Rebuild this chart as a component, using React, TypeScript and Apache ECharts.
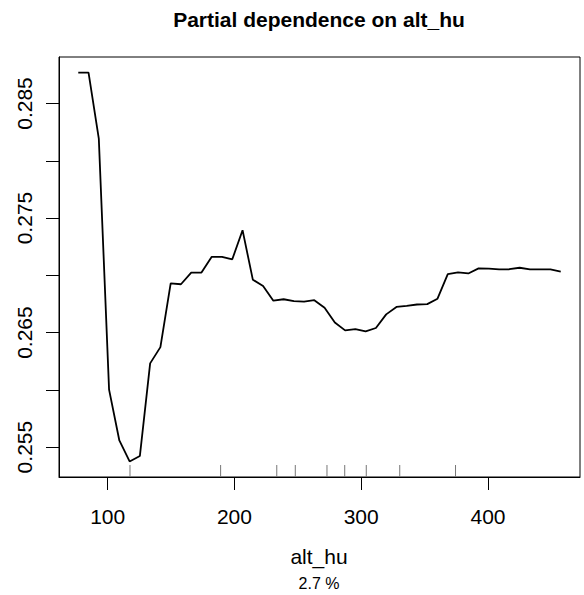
import React, { useEffect, useRef } from "react";
import * as echarts from "echarts";

const xGrid = [
  76.8, 84.9, 93.0, 101.1, 109.2, 117.3, 125.4, 133.5, 141.6, 149.7, 157.8, 165.9,
  174.0, 182.1, 190.2, 198.3, 206.4, 214.5, 222.6, 230.7, 238.8, 246.9, 254.9, 263.0,
  271.1, 279.2, 287.3, 295.4, 303.5, 311.6, 319.7, 327.8, 335.9, 344.0, 352.1, 360.2,
  368.3, 376.4, 384.5, 392.6, 400.7, 408.8, 416.9, 425.0, 433.1, 441.2, 449.3, 457.4,
];
const partialDep = [
  0.2877, 0.2877, 0.28194, 0.26002, 0.25558, 0.25375, 0.25423, 0.26231, 0.26373, 0.26929,
  0.26922, 0.27024, 0.27024, 0.27161, 0.27161, 0.2714, 0.27394, 0.26962, 0.26907, 0.26778,
  0.26791, 0.26774, 0.26771, 0.26783, 0.26717, 0.26588, 0.26519, 0.26531, 0.2651, 0.2654,
  0.26659, 0.26724, 0.26733, 0.26745, 0.26748, 0.26796, 0.2701, 0.27025, 0.27016, 0.2706,
  0.27059, 0.27051, 0.27053, 0.27066, 0.27051, 0.27051, 0.27051, 0.27033,
];
const rugValues = [117.6, 189.1, 233.4, 248.0, 273.0, 287.0, 304.0, 330.4, 374.4];
const xTicks = [100, 200, 300, 400];
const yTicks = [0.255, 0.26, 0.265, 0.27, 0.275, 0.28, 0.285];
const yLabels = [0.255, 0.265, 0.275, 0.285];
const titleText = "Partial dependence on alt_hu";
const xName = "alt_hu";
const subText = "2.7 %";

const FONT = "'Liberation Sans', Arial, Helvetica, sans-serif";

export default function App() {
  const ref = useRef<HTMLDivElement>(null);
  useEffect(() => {
    if (!ref.current) return;
    const chart = echarts.init(ref.current, null, { renderer: "svg" });
    const Y_MIN = 0.25239;
    const Y_MAX = 0.28906;
    chart.setOption({
      animation: false,
      backgroundColor: "#ffffff",
      textStyle: { fontFamily: FONT },
      grid: {
        left: 59,
        top: 57,
        width: 521,
        height: 420,
        show: true,
        borderColor: "#000",
        borderWidth: 1,
        backgroundColor: "transparent",
        containLabel: false,
      },
      xAxis: {
        type: "value",
        min: 61.6,
        max: 472.6,
        axisLine: { show: true, lineStyle: { color: "#000", width: 1 } },
        axisTick: { show: true, inside: false, length: 13, customValues: xTicks, lineStyle: { color: "#000", width: 1 } },
        axisLabel: { show: true, customValues: xTicks, margin: 29, fontSize: 21, color: "#000", fontFamily: FONT },
        splitLine: { show: false },
      },
      yAxis: {
        type: "value",
        min: Y_MIN,
        max: Y_MAX,
        axisLine: { show: true, lineStyle: { color: "#000", width: 1 } },
        axisTick: { show: true, inside: false, length: 13, customValues: yTicks, lineStyle: { color: "#000", width: 1 } },
        axisLabel: {
          show: true,
          customValues: yLabels,
          rotate: 90,
          margin: 24,
          fontSize: 21,
          color: "#000",
          fontFamily: FONT,
          formatter: (v: number) => v.toFixed(3),
        },
        splitLine: { show: false },
      },
      graphic: [
        {
          type: "text",
          x: 319,
          y: 19,
          style: { text: titleText, font: `bold 21px ${FONT}`, fill: "#000", align: "center", verticalAlign: "middle" },
        },
        {
          type: "text",
          x: 319,
          y: 556,
          style: { text: xName, font: `21px ${FONT}`, fill: "#000", align: "center", verticalAlign: "middle" },
        },
        {
          type: "text",
          x: 319,
          y: 583,
          style: { text: subText, font: `16px ${FONT}`, fill: "#000", align: "center", verticalAlign: "middle" },
        },
      ],
      series: [
        {
          type: "line",
          data: xGrid.map((x, i) => [x, partialDep[i]]),
          showSymbol: false,
          symbol: "none",
          lineStyle: { color: "#000", width: 1.8 },
          z: 3,
        },
        {
          type: "custom",
          data: rugValues.map((v) => [v, Y_MIN]),
          renderItem: (params: any, api: any) => {
            const p = api.coord([api.value(0), Y_MIN]);
            return {
              type: "line",
              shape: { x1: p[0], y1: p[1], x2: p[0], y2: p[1] - 12 },
              style: { stroke: "#777", lineWidth: 1 },
            };
          },
          z: 2,
        },
      ],
    });
    return () => chart.dispose();
  }, []);
  return (
    <div
      ref={ref}
      style={{ position: "absolute", left: 0, top: 0, width: 584, height: 595 }}
    />
  );
}
